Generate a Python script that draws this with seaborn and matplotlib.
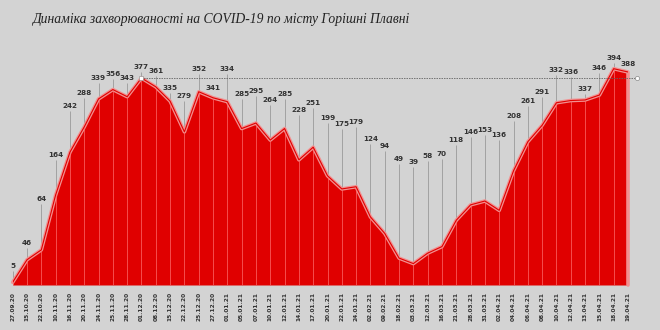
import matplotlib
matplotlib.use("Agg")
import matplotlib.pyplot as plt
import seaborn as sns
import pandas as pd
import numpy as np

dates = ["27.09.20", "15.10.20", "22.10.20", "10.11.20", "16.11.20", "20.11.20", "24.11.20",
         "25.11.20", "28.11.20", "01.12.20", "08.12.20", "15.12.20", "22.12.20", "25.12.20",
         "27.12.20", "01.01.21", "05.01.21", "07.01.21", "10.01.21", "12.01.21", "14.01.21",
         "17.01.21", "20.01.21", "22.01.21", "24.01.21", "02.02.21", "09.02.21", "18.02.21",
         "03.03.21", "12.03.21", "16.03.21", "21.03.21", "28.03.21", "31.03.21", "02.04.21",
         "04.04.21", "06.04.21", "08.04.21", "10.04.21", "12.04.21", "13.04.21", "15.04.21",
         "18.04.21", "19.04.21"]
cases = [5, 46, 64, 164, 242, 288, 339, 356, 343, 377, 361, 335, 279, 352, 341, 334, 285, 295,
         264, 285, 228, 251, 199, 175, 179, 124, 94, 49, 39, 58, 70, 118, 146, 153, 136, 208,
         261, 291, 332, 336, 337, 346, 394, 388]
# label lift above each point, in pixels (style)
label_lift = [16, 17, 51, 40, 46, 34, 21, 16, 19, 11, 16, 13, 36, 23, 10, 33, 35, 32, 40, 35,
              50, 44, 58, 65, 65, 78, 87, 99, 102, 97, 93, 80, 73, 71, 75, 55, 41, 33, 33, 29,
              11, 27, 11, 8]
title = "Динаміка захворюваності на COVID-19 по місту Горішні Плавні"

df = pd.DataFrame({"i": np.arange(len(cases)), "date": dates, "cases": cases})

bg = "#d3d3d3"
sns.set_theme(style="white", rc={"figure.facecolor": bg, "axes.facecolor": bg})
plt.rcParams["font.family"] = ["DejaVu Sans"]

fig = plt.figure(figsize=(6.6, 3.3), dpi=100)
W, H = 660, 330
x0, x1 = 12.7, 628.0
base = 285.0
ymax = 515
ppu = 0.549
top_px = base - ymax * ppu
ax = fig.add_axes([x0 / W, (H - base) / H, (x1 - x0) / W, (base - top_px) / H])
ax.set_xlim(0, len(cases) - 1)
ax.set_ylim(0, ymax)
for s in ax.spines.values():
    s.set_visible(False)

red = "#e00000"
ax.fill_between(df["i"], 0, df["cases"], color=red, lw=0, zorder=2)
# outline glow
xs = list(df["i"]) + [df["i"].iloc[-1]]
ys = list(df["cases"]) + [0]
ax.plot(xs, ys, color="#f29090", lw=2.6, zorder=3, solid_joinstyle="round", clip_on=False)
sns.lineplot(data=df, x="i", y="cases", ax=ax, color=red, lw=0.8, zorder=4)

fig.canvas.draw()
upx = ax.transData.transform((0, 1))[1] - ax.transData.transform((0, 0))[1]

for i, (v, lift) in enumerate(zip(cases, label_lift)):
    ax.vlines(i, 0, v, color="#ff7070", lw=0.6, alpha=0.8, zorder=3.5)
    if lift > 10:
        ax.vlines(i, v, v + (lift - 5) / upx, color="#9a9a9a", lw=0.6, zorder=1.5)
    ax.annotate(str(v), (i, v), xytext=(0, lift), textcoords="offset pixels",
                ha="center", va="center", fontsize=5.2, fontweight="bold",
                color="#333333", zorder=6, annotation_clip=False)

# reference dashed line at the first peak
pk = int(np.argmax(cases[:20]))
end_x = pk + (637 - x0) / ((x1 - x0) / (len(cases) - 1)) - pk
ax.plot([pk, end_x], [cases[pk], cases[pk]], color="#666666", lw=0.6, ls=(0, (1.8, 1.2)),
        zorder=5, clip_on=False)
ax.plot([pk], [cases[pk]], marker="s", ms=2.5, mfc="white", mec="#888888", mew=0.4, zorder=6)
ax.plot([end_x], [cases[pk]], marker="o", ms=3, mfc="white", mec="#888888", mew=0.5,
        zorder=6, clip_on=False)

ax.set_xticks(df["i"])
ax.set_xticklabels(dates, rotation=90, fontsize=4.2, fontweight="bold", color="#333333")
ax.set_yticks([])
ax.tick_params(axis="x", length=0, pad=5)
ax.set_xlabel("")
ax.set_ylabel("")

fig.text(32 / W, 1 - 19 / H, title, fontsize=9.8, style="italic",
         family=["Liberation Serif", "DejaVu Serif"], color="#222222", ha="left", va="center")

fig.savefig("out.png", dpi=100, facecolor=bg)
